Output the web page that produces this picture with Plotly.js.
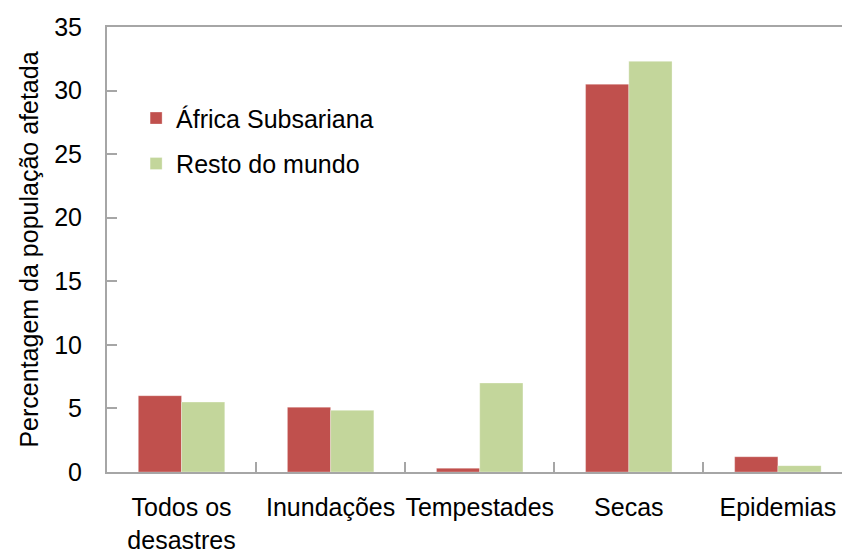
<!DOCTYPE html>
<html>
<head>
<meta charset="utf-8">
<script src="https://cdn.plot.ly/plotly-3.0.1.min.js"></script>
<style>html,body{margin:0;padding:0;background:#fff;}#chart{width:842px;height:554px;}</style>
</head>
<body>
<div id="chart"></div>
<script>
var categories = ["Todos os<br>desastres", "Inundações", "Tempestades", "Secas", "Epidemias"];
var africaValues = [6.0, 5.1, 0.3, 30.5, 1.2];
var restoValues = [5.5, 4.85, 7.0, 32.3, 0.5];
var seriesNames = ["África Subsariana", "Resto do mundo"];
var yTickVals = [0, 5, 10, 15, 20, 25, 30, 35];

var FONT = "Liberation Sans, Arial, sans-serif";

var traces = [
  {
    type: "bar", name: seriesNames[0], x: categories, y: africaValues,
    marker: {color: "#C0504D", line: {color: "rgba(255,255,255,0.3)", width: 1}},
    legendgroup: "a", hoverinfo: "x+y"
  },
  {
    type: "bar", name: seriesNames[1], x: categories, y: restoValues,
    marker: {color: "#C3D69B", line: {color: "rgba(255,255,255,0.3)", width: 1}},
    legendgroup: "b", hoverinfo: "x+y"
  }
];

var layout = {
  width: 842, height: 554,
  margin: {l: 107, r: 0, t: 27, b: 82, pad: 0},
  paper_bgcolor: "#ffffff", plot_bgcolor: "#ffffff",
  font: {family: FONT, size: 25, color: "#000000"},
  barmode: "group", bargap: 0.42, bargroupgap: 0,
  showlegend: true,
  legend: {
    x: 0.0396, xanchor: "left", y: 0.8465, yanchor: "top",
    bgcolor: "rgba(0,0,0,0)", borderwidth: 0,
    font: {family: FONT, size: 25, color: "#000"},
    traceorder: "grouped", tracegroupgap: 10
  },
  xaxis: {
    type: "category", range: [-0.5, 4.43],
    showline: true, linecolor: "#A6A6A6", linewidth: 2, mirror: true,
    ticks: "inside", ticklen: 10, tickwidth: 2, tickcolor: "#A6A6A6",
    tickson: "boundaries", showgrid: false, zeroline: false,
    tickangle: 0,
    tickfont: {family: FONT, size: 25, color: "#000"},
    ticklabelstandoff: 12, automargin: false, fixedrange: true
  },
  yaxis: {
    range: [0, 35], tickvals: yTickVals, ticktext: yTickVals.map(String),
    showline: true, linecolor: "#A6A6A6", linewidth: 2,
    ticks: "inside", ticklen: 10, tickwidth: 2, tickcolor: "#A6A6A6",
    showgrid: false, zeroline: false,
    tickfont: {family: FONT, size: 25, color: "#000"},
    ticklabelstandoff: 18, automargin: false, fixedrange: true,
    title: {text: "Percentagem da população afetada", font: {family: FONT, size: 25, color: "#000"}, standoff: 8}
  }
};

Plotly.newPlot("chart", traces, layout, {displayModeBar: false, staticPlot: true});
</script>
</body>
</html>
